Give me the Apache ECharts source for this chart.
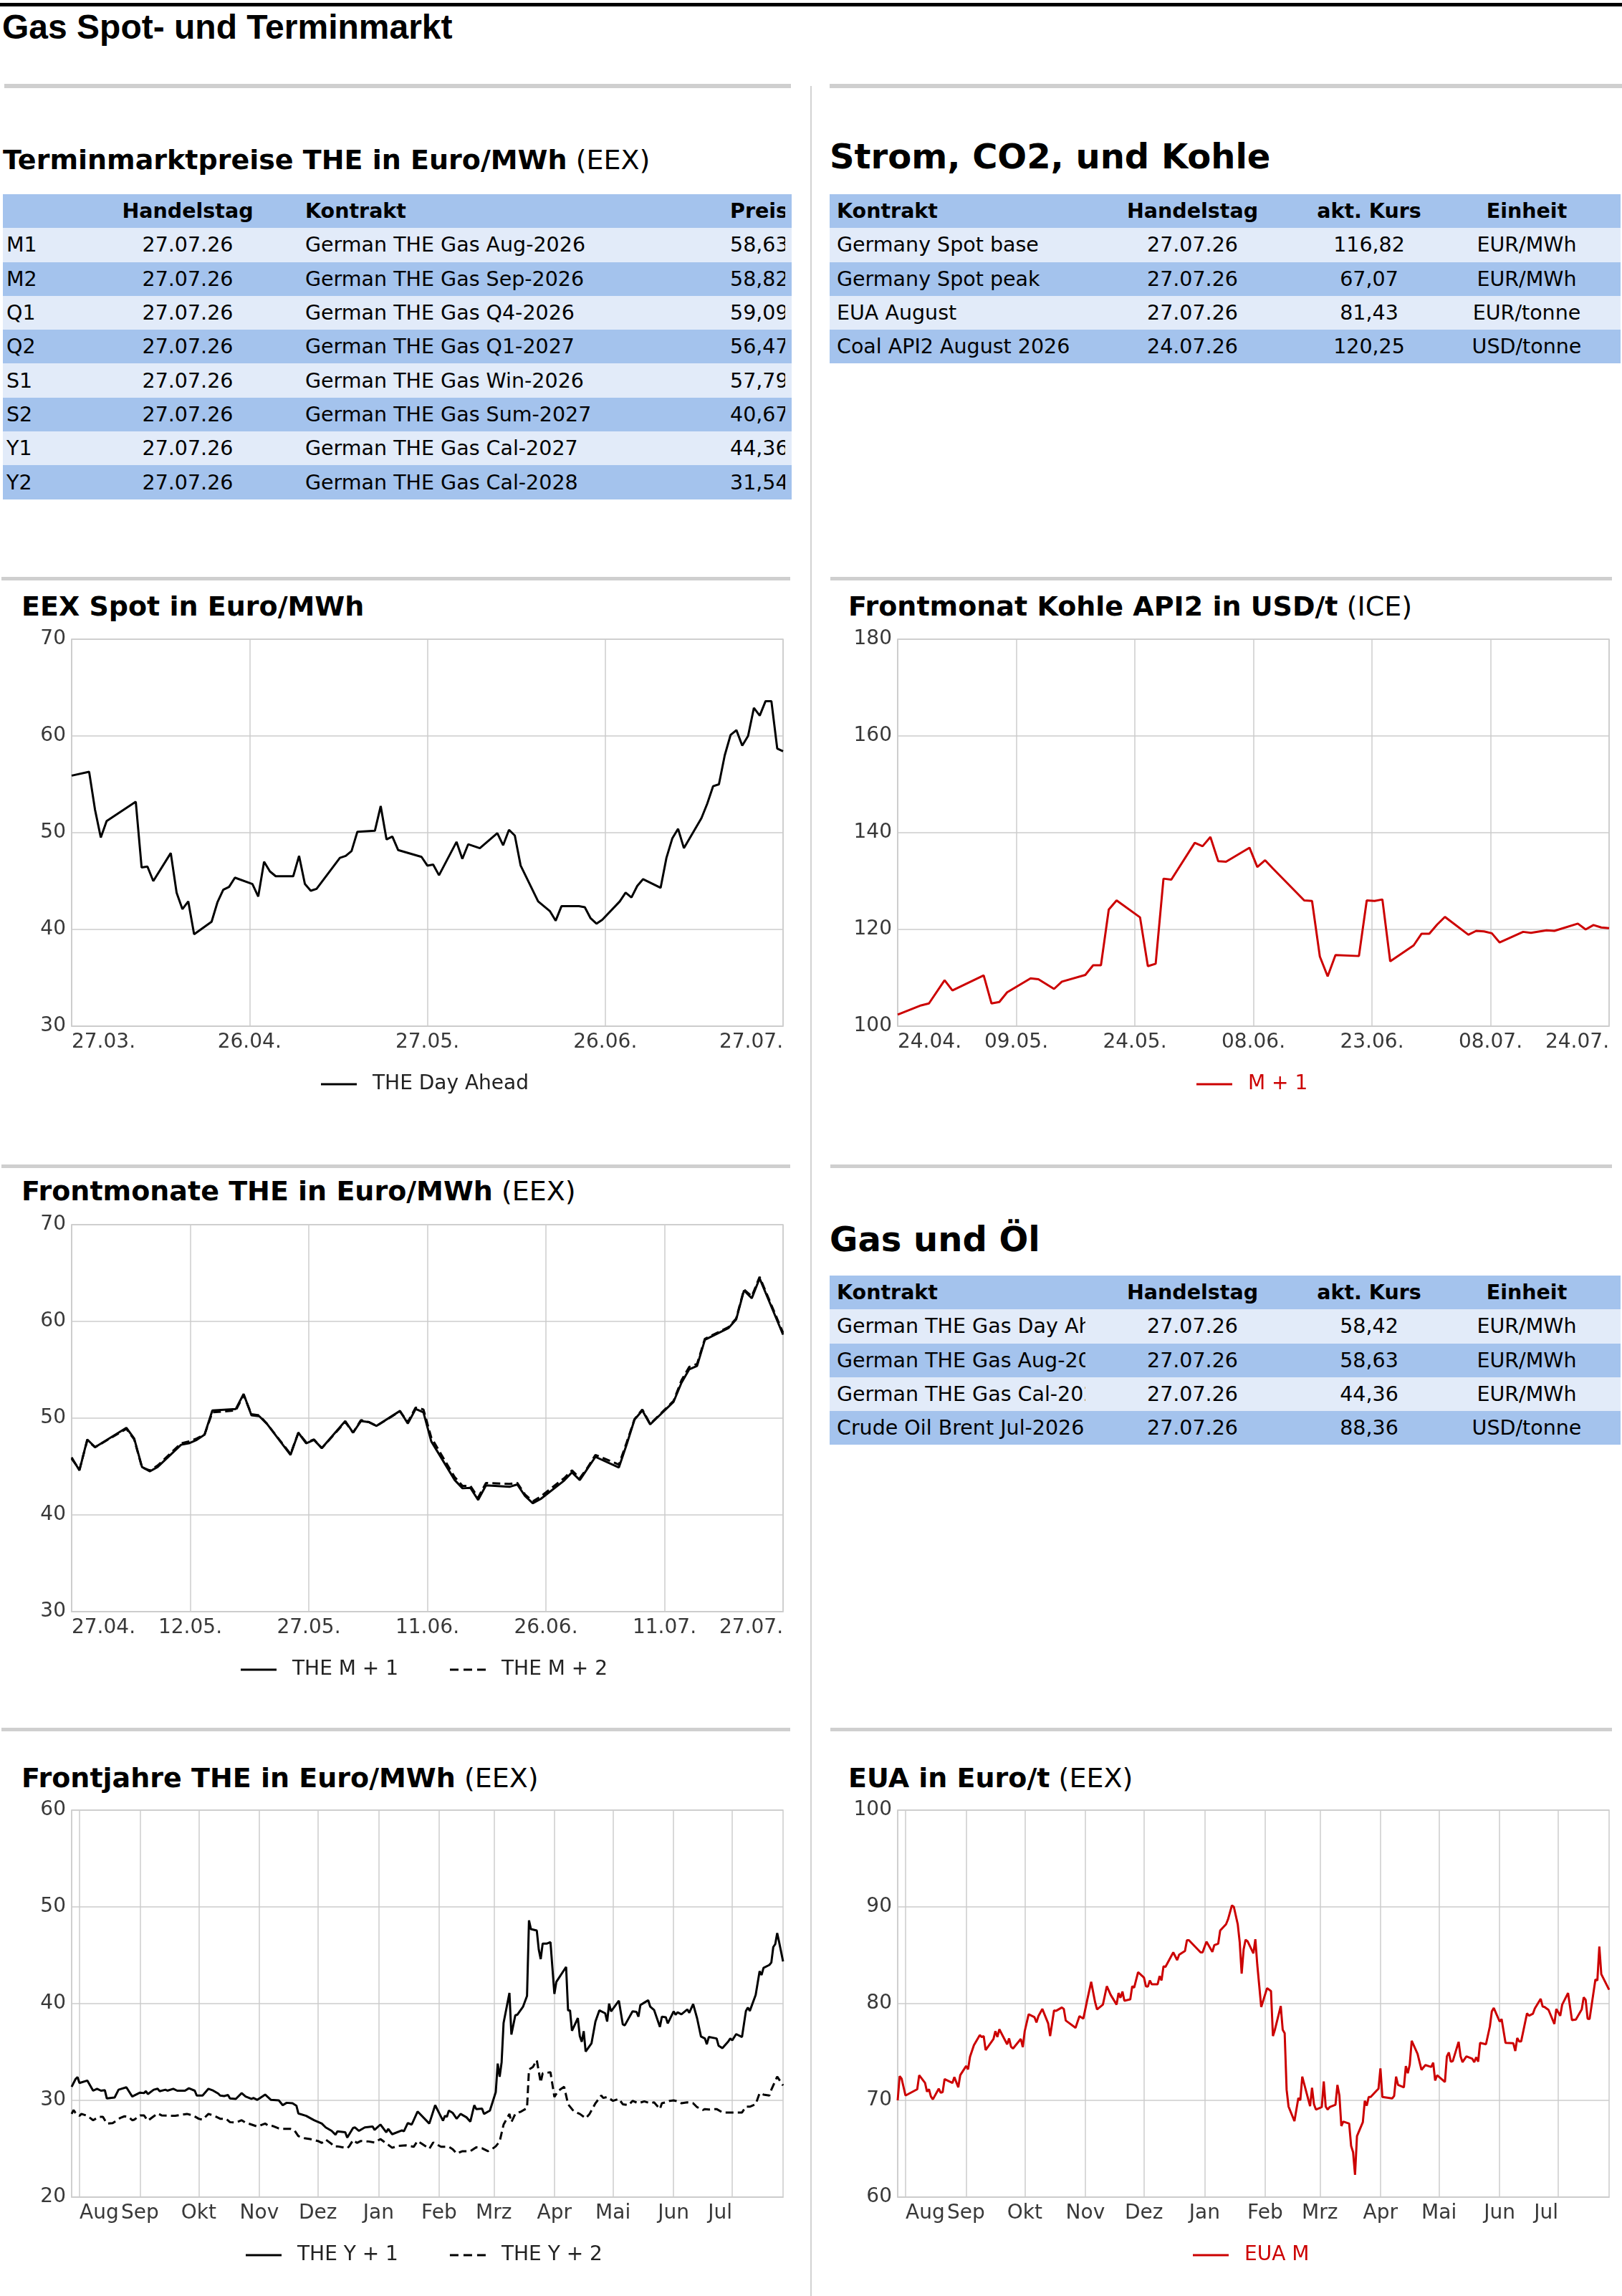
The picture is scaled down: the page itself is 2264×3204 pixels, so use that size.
<!DOCTYPE html>
<html lang="de">
<head>
<meta charset="utf-8">
<title>Gas Spot- und Terminmarkt</title>
<script src="https://cdn.jsdelivr.net/npm/echarts@6.0.0/dist/echarts.min.js"></script>
<style>
  html, body { margin: 0; padding: 0; background: #fff; }
  #page { position: relative; width: 2264px; height: 3204px; overflow: hidden; background: #fff; color: #000; }
  #charts { position: absolute; left: 0; top: 0; width: 2264px; height: 3204px; }
  .bar { position: absolute; }
  .heading { position: absolute; white-space: nowrap; font-family: "DejaVu Sans", sans-serif; font-weight: bold; color: #000; }
  .heading span { font-weight: normal; }
  .h38 { font-size: 38px; line-height: 38px; }
  .h48 { font-size: 48px; line-height: 48px; }
  #pageTitle { position: absolute; left: 3px; top: 14px; font-family: "Liberation Sans", Arial, sans-serif; font-weight: bold; font-size: 48px; line-height: 48px; white-space: nowrap; }
  table { position: absolute; border-collapse: collapse; table-layout: fixed; font-family: "DejaVu Sans", sans-serif; font-size: 28.5px; color: #000; }
  td, th { box-sizing: border-box; height: 47.3px; padding-top: 0; padding-bottom: 0; white-space: nowrap; overflow: hidden; vertical-align: middle; font-weight: normal; }
  th { font-weight: bold; }
  tr.dark { background: #a4c3ed; }
  tr.light { background: #e2ebf9; }
</style>
</head>
<body>
<div id="page">
  <div class="bar" style="left:0;top:4px;width:2264px;height:5px;background:#000"></div>
  <div id="pageTitle">Gas Spot- und Terminmarkt</div>

  <div class="bar" style="left:1131px;top:120px;width:2px;height:3084px;background:#d2d2d2"></div>

  <div class="bar" style="left:6px;top:117px;width:1098px;height:6px;background:#cfcfcf"></div>
  <div class="bar" style="left:1158px;top:117px;width:1106px;height:6px;background:#cfcfcf"></div>
  <div class="bar" style="left:2px;top:805px;width:1101px;height:5px;background:#cfcfcf"></div>
  <div class="bar" style="left:1159px;top:805px;width:1091px;height:5px;background:#cfcfcf"></div>
  <div class="bar" style="left:2px;top:1625px;width:1101px;height:5px;background:#cfcfcf"></div>
  <div class="bar" style="left:1159px;top:1625px;width:1091px;height:5px;background:#cfcfcf"></div>
  <div class="bar" style="left:2px;top:2411px;width:1101px;height:5px;background:#cfcfcf"></div>
  <div class="bar" style="left:1159px;top:2411px;width:1091px;height:5px;background:#cfcfcf"></div>

  <div class="heading h38" style="left:4px;top:204px">Terminmarktpreise THE in Euro/MWh<span> (EEX)</span></div>
  <div class="heading h48" style="left:1158px;top:194px">Strom, CO2, und Kohle</div>
  <div class="heading h48" style="left:1158px;top:1705px">Gas und Öl</div>

  <div class="heading h38" style="left:30px;top:827px">EEX Spot in Euro/MWh</div>
  <div class="heading h38" style="left:1184px;top:827px">Frontmonat Kohle API2 in USD/t<span> (ICE)</span></div>
  <div class="heading h38" style="left:30px;top:1643px">Frontmonate THE in Euro/MWh<span> (EEX)</span></div>
  <div class="heading h38" style="left:30px;top:2462px">Frontjahre THE in Euro/MWh<span> (EEX)</span></div>
  <div class="heading h38" style="left:1184px;top:2462px">EUA in Euro/t<span> (EEX)</span></div>

  <table id="termTable" style="left:4px;top:271px"></table>
  <table id="stromTable" style="left:1158px;top:271px"></table>
  <table id="gasTable" style="left:1158px;top:1780px"></table>

  <div id="charts"></div>
</div>
<script>
// ---- table data ----
const termCodes = ['M1', 'M2', 'Q1', 'Q2', 'S1', 'S2', 'Y1', 'Y2'];
const termDates = ['27.07.26', '27.07.26', '27.07.26', '27.07.26', '27.07.26', '27.07.26', '27.07.26', '27.07.26'];
const termContracts = ['German THE Gas Aug-2026', 'German THE Gas Sep-2026', 'German THE Gas Q4-2026', 'German THE Gas Q1-2027',
  'German THE Gas Win-2026', 'German THE Gas Sum-2027', 'German THE Gas Cal-2027', 'German THE Gas Cal-2028'];
const termPrices = [58.63, 58.82, 59.09, 56.47, 57.79, 40.67, 44.36, 31.54];

const stromContracts = ['Germany Spot base', 'Germany Spot peak', 'EUA August', 'Coal API2 August 2026'];
const stromDates = ['27.07.26', '27.07.26', '27.07.26', '24.07.26'];
const stromPrices = [116.82, 67.07, 81.43, 120.25];
const stromUnits = ['EUR/MWh', 'EUR/MWh', 'EUR/tonne', 'USD/tonne'];

const gasContracts = ['German THE Gas Day Ahead', 'German THE Gas Aug-2026', 'German THE Gas Cal-2027', 'Crude Oil Brent Jul-2026'];
const gasDates = ['27.07.26', '27.07.26', '27.07.26', '27.07.26'];
const gasPrices = [58.42, 58.63, 44.36, 88.36];
const gasUnits = ['EUR/MWh', 'EUR/MWh', 'EUR/MWh', 'USD/tonne'];

// ---- chart data: [days since first axis date, value] ----
// EEX Spot, axis from 27.03. (day 0) to 27.07. (day 122)
const spotTicks = ['27.03.', '26.04.', '27.05.', '26.06.', '27.07.'];
const spotPoints = [[0,55.9],[3,56.3],[4,52.4],[5,49.5],[6,51.2],[11,53.2],[12,46.4],[13,46.5],[14,45.0],[17,47.9],
  [18,43.8],[19,42.1],[20,42.9],[21,39.5],[24,40.8],[25,42.8],[26,44.1],[27,44.4],[28,45.35],[31,44.7],[32,43.4],
  [33,47.0],[34,46.0],[35,45.5],[38,45.5],[39,47.6],[40,44.7],[41,44.0],[42,44.2],[46,47.4],[47,47.6],[48,48.1],
  [49,50.1],[52,50.2],[53,52.75],[54,49.3],[55,49.6],[56,48.2],[60,47.5],[61,46.6],[62,46.7],[63,45.6],[66,49.05],
  [67,47.3],[68,48.8],[70,48.4],[73,49.95],[74,48.7],[75,50.3],[76,49.7],[77,46.6],[80,42.9],[82,41.9],[83,40.9],
  [84,42.4],[87,42.4],[88,42.3],[89,41.15],[90,40.6],[91,41.0],[94,42.9],[95,43.8],[96,43.3],[97,44.5],[98,45.2],
  [101,44.3],[102,47.4],[103,49.4],[104,50.4],[105,48.4],[108,51.5],[109,53.0],[110,54.8],[111,55.0],[112,58.0],
  [113,60.1],[114,60.6],[115,59.0],[116,60.0],[117,62.9],[118,62.1],[119,63.6],[120,63.6],[121,58.7],[122,58.42]];

// Kohle API2, axis from 24.04. (day 0) to 24.07. (day 91)
const coalTicks = ['24.04.', '09.05.', '24.05.', '08.06.', '23.06.', '08.07.', '24.07.'];
const coalPoints = [[0,102.4],[3,104.3],[4,104.7],[6,109.5],[7,107.4],[11,110.5],[12,104.7],[13,105.0],[14,107.0],
  [17,109.9],[18,109.7],[20,107.7],[21,109.2],[24,110.6],[25,112.6],[26,112.6],[27,124.1],[28,126.0],[31,122.5],
  [32,112.4],[33,112.9],[34,130.5],[35,130.3],[38,137.9],[39,137.2],[40,139.1],[41,134.1],[42,134.0],[45,136.9],
  [46,132.9],[47,134.3],[48,132.6],[52,126.0],[53,125.9],[54,114.4],[55,110.3],[56,114.7],[59,114.5],[60,126.0],
  [61,125.9],[62,126.2],[63,113.4],[66,116.7],[67,119.1],[68,119.1],[69,121.0],[70,122.6],[73,118.9],[74,119.7],
  [75,119.6],[76,119.2],[77,117.3],[80,119.5],[81,119.3],[83,119.8],[84,119.7],[87,121.2],[88,120.0],[89,120.9],
  [90,120.4],[91,120.25]];

// Frontmonate, axis from 27.04. (day 0) to 27.07. (day 91)
const frontTicks = ['27.04.', '12.05.', '27.05.', '11.06.', '26.06.', '11.07.', '27.07.'];
const m1Points = [[0,45.95],[1,44.6],[2,47.8],[3,47.0],[7,49.0],[8,47.9],[9,44.95],[10,44.5],[11,44.95],[14,47.25],
  [15,47.4],[16,47.75],[17,48.3],[18,50.8],[21,50.95],[22,52.5],[23,50.3],[24,50.2],[25,49.4],[28,46.2],[29,48.5],
  [30,47.4],[31,47.75],[32,46.9],[35,49.7],[36,48.5],[37,49.7],[38,49.6],[39,49.2],[42,50.75],[43,49.45],[44,50.95],
  [45,50.6],[46,47.6],[49,43.6],[50,42.75],[51,42.8],[52,41.55],[53,43.05],[56,42.9],[57,43.15],[58,41.95],[59,41.2],
  [60,41.65],[63,43.55],[64,44.4],[65,43.6],[66,44.8],[67,46.0],[70,44.9],[71,47.3],[72,49.85],[73,50.8],[74,49.35],
  [77,51.7],[78,53.65],[79,55.05],[80,55.4],[81,58.1],[84,59.3],[85,60.2],[86,63.2],[87,62.4],[88,64.45],[91,58.63]];
const m2Points = [[0,45.8],[1,44.7],[2,47.7],[3,47.0],[7,48.9],[8,47.8],[9,44.9],[10,44.6],[11,45.1],[14,47.4],
  [15,47.6],[16,47.9],[17,48.3],[18,50.6],[21,50.8],[22,52.4],[23,50.4],[24,50.3],[25,49.4],[28,46.3],[29,48.5],
  [30,47.5],[31,47.8],[32,46.9],[35,49.6],[36,48.5],[37,49.8],[38,49.6],[39,49.2],[42,50.7],[43,49.6],[44,51.1],
  [45,50.9],[46,48.0],[49,43.9],[50,43.0],[51,43.0],[52,41.8],[53,43.3],[56,43.2],[57,43.3],[58,42.1],[59,41.4],
  [60,41.9],[63,43.8],[64,44.6],[65,43.8],[66,44.9],[67,46.2],[70,45.2],[71,47.5],[72,49.9],[73,50.9],[74,49.4],
  [77,51.8],[78,53.9],[79,55.3],[80,55.6],[81,58.2],[84,59.4],[85,60.3],[86,63.3],[87,62.6],[88,64.6],[91,58.82]];

// one year axis from 28.07.2025 (day 0) to 27.07.2026 (day 364)
const monthNames = ['Aug', 'Sep', 'Okt', 'Nov', 'Dez', 'Jan', 'Feb', 'Mrz', 'Apr', 'Mai', 'Jun', 'Jul'];
const monthStarts = [4, 35, 65, 96, 126, 157, 188, 216, 247, 277, 308, 338];
const yearSpan = 364;

const y1Points = [[0,31.4],[2,32.2],[3,32.4],[4,31.8],[8,32.05],[11,31.0],[13,31.2],[15,31.0],[17,31.05],[18,30.2],
  [22,30.3],[24,31.1],[28,31.35],[31,30.4],[35,30.8],[37,30.75],[38,30.95],[39,30.65],[42,31.1],[44,31.2],[45,30.95],
  [48,31.1],[49,31.0],[52,31.2],[54,31.0],[58,31.0],[60,31.25],[63,31.0],[64,30.5],[67,30.5],[70,31.2],[72,31.05],
  [75,30.7],[76,30.5],[78,30.45],[80,30.55],[81,30.2],[84,30.15],[87,30.75],[89,30.4],[92,30.15],[93,30.25],[95,30.05],
  [99,30.6],[102,30.05],[106,30.0],[108,29.5],[110,29.75],[113,29.7],[115,29.45],[116,28.65],[120,28.4],[124,27.95],
  [128,27.6],[130,27.2],[133,26.85],[135,26.45],[136,26.8],[140,26.7],[141,26.15],[144,27.15],[145,27.2],[147,26.85],
  [150,27.2],[154,27.3],[155,26.95],[158,27.5],[161,26.7],[162,27.05],[164,26.5],[169,26.9],[170,26.8],[172,27.65],
  [174,27.5],[177,28.85],[183,27.6],[186,29.5],[190,27.9],[191,28.4],[192,28.3],[193,28.95],[195,28.7],[197,28.1],
  [199,28.6],[202,28.25],[204,27.8],[206,29.5],[207,29.1],[210,29.15],[211,28.6],[214,28.95],[217,30.85],[218,33.8],
  [219,32.45],[220,33.95],[221,38.0],[224,41.1],[225,36.8],[227,38.8],[228,38.85],[231,39.7],[233,40.8],[234,48.6],
  [235,47.7],[238,47.55],[239,45.6],[240,44.6],[241,46.2],[243,46.2],[245,46.35],[247,41.0],[248,42.25],[253,43.8],
  [254,39.3],[255,39.3],[256,37.2],[259,38.5],[260,36.65],[261,36.05],[262,37.15],[263,35.05],[266,35.9],[268,38.15],
  [270,39.3],[273,39.0],[274,38.15],[275,40.0],[276,39.2],[280,40.3],[282,37.85],[283,37.75],[287,39.2],[289,39.15],
  [290,38.65],[291,39.85],[293,40.1],[295,40.35],[296,39.7],[298,39.35],[301,37.6],[302,38.65],[304,38.6],[305,37.95],
  [308,39.2],[309,38.85],[310,39.1],[312,38.9],[315,39.4],[316,39.05],[318,39.95],[320,38.5],[322,36.6],[324,36.4],
  [325,35.8],[326,36.55],[330,36.4],[331,35.65],[333,35.4],[336,36.1],[337,36.4],[338,36.2],[340,36.85],[343,36.55],
  [345,39.25],[346,39.6],[347,39.25],[350,40.9],[352,43.35],[353,42.95],[354,43.7],[357,44.0],[358,44.25],[359,45.85],
  [360,46.15],[361,47.3],[362,46.35],[364,44.36]];

const y2Points = [[0,28.6],[1,29.0],[2,28.7],[4,28.4],[5,28.6],[8,28.4],[11,27.95],[14,28.3],[16,28.3],[18,27.6],
  [21,27.65],[25,28.2],[27,28.35],[29,28.3],[31,27.95],[32,28.0],[35,28.45],[37,28.45],[39,27.9],[41,28.2],[44,28.65],
  [46,28.45],[53,28.4],[59,28.6],[62,28.45],[65,28.1],[67,28.0],[70,28.6],[73,28.4],[76,28.1],[79,28.1],[81,27.75],
  [84,27.7],[87,27.95],[89,27.7],[92,27.5],[95,27.3],[99,27.6],[101,27.35],[103,27.35],[106,27.1],[108,27.05],
  [112,27.05],[114,26.9],[116,26.3],[119,26.1],[122,26.0],[126,25.8],[128,25.6],[130,25.95],[133,25.5],[134,25.25],
  [136,25.25],[141,25.05],[142,25.25],[144,25.9],[146,25.6],[148,25.8],[152,25.75],[155,25.65],[158,26.0],[161,25.55],
  [164,25.1],[167,25.3],[171,25.35],[175,25.2],[177,25.8],[180,25.4],[183,25.0],[185,25.65],[189,25.2],[193,25.2],
  [195,24.95],[197,24.5],[200,24.75],[204,24.75],[207,25.15],[210,25.05],[213,24.75],[215,24.95],[217,25.25],
  [219,25.75],[221,27.5],[224,28.6],[225,27.75],[227,28.6],[230,28.85],[233,29.2],[234,33.2],[236,33.45],[238,34.15],
  [240,31.85],[241,32.8],[245,32.9],[247,30.35],[249,31.0],[252,31.4],[254,29.6],[257,28.85],[260,28.6],[263,28.15],
  [265,28.6],[268,29.7],[271,30.5],[272,30.25],[274,30.35],[277,29.95],[280,30.15],[282,29.6],[285,29.5],[287,29.95],
  [290,29.7],[293,29.9],[296,29.7],[298,29.8],[301,29.1],[302,29.7],[304,29.8],[306,29.95],[308,30.0],[310,29.9],
  [312,29.7],[315,29.8],[318,29.7],[320,29.3],[323,29.0],[324,29.1],[326,29.05],[330,29.1],[333,28.75],[343,28.75],
  [345,29.35],[347,29.35],[350,29.6],[352,30.75],[354,30.6],[357,30.5],[358,31.1],[361,32.45],[364,31.54]];

const euaPoints = [[0,70.0],[1,72.5],[2,72.25],[4,70.5],[10,71.15],[11,72.6],[14,71.8],[15,70.9],[16,71.15],[17,70.4],
  [18,70.1],[21,71.2],[22,70.8],[23,70.85],[24,72.2],[28,71.8],[29,72.4],[31,71.35],[32,72.6],[35,73.55],[36,73.2],
  [37,74.5],[39,75.7],[42,76.75],[43,76.55],[44,76.65],[45,75.2],[49,76.35],[50,77.15],[51,76.55],[52,77.35],[56,75.8],
  [57,76.4],[58,75.55],[59,75.35],[63,76.35],[64,75.5],[65,77.15],[67,78.9],[70,78.6],[71,78.05],[72,78.7],[74,79.45],
  [77,77.95],[78,76.65],[80,79.3],[81,79.25],[84,79.6],[85,79.45],[86,78.25],[87,78.1],[91,77.5],[93,78.7],[95,78.45],
  [97,80.4],[99,82.25],[101,80.15],[102,79.4],[105,79.9],[107,81.8],[109,80.9],[112,79.9],[113,81.1],[114,80.6],
  [115,81.25],[116,80.3],[119,80.45],[120,81.8],[121,81.65],[123,83.25],[126,82.7],[127,81.8],[128,81.75],[129,82.4],
  [130,82.0],[133,82.0],[134,82.85],[135,82.4],[136,83.85],[137,83.8],[141,85.3],[143,84.5],[144,85.05],[147,85.45],
  [148,86.55],[149,86.55],[155,85.3],[156,85.3],[158,86.4],[161,85.35],[162,86.05],[164,86.2],[165,87.55],[168,88.2],
  [169,88.7],[171,90.15],[172,90.0],[174,88.2],[175,86.35],[176,83.1],[177,85.6],[178,86.6],[179,86.45],[182,85.2],
  [183,86.65],[184,84.0],[186,79.65],[189,81.6],[191,81.3],[192,76.65],[193,77.3],[196,79.75],[197,77.3],[198,76.95],
  [199,71.1],[200,69.35],[203,67.85],[205,70.25],[206,70.0],[207,72.45],[211,69.4],[212,71.3],[213,69.6],[214,69.05],
  [217,69.3],[218,71.95],[219,69.35],[220,69.05],[221,69.3],[224,69.55],[225,71.6],[226,70.5],[227,67.35],[228,67.8],
  [231,67.6],[232,65.3],[233,64.65],[234,62.3],[235,66.3],[238,67.75],[239,69.95],[240,69.45],[241,70.35],[242,70.35],
  [245,71.0],[246,71.2],[247,73.3],[248,70.35],[253,70.2],[254,70.45],[255,72.45],[256,71.6],[259,71.35],[260,73.55],
  [261,72.8],[262,73.7],[263,76.15],[266,74.8],[268,73.15],[270,73.65],[273,73.45],[274,73.9],[275,72.05],[276,72.6],
  [280,71.9],[281,74.55],[282,74.95],[283,74.0],[284,74.05],[287,76.05],[288,74.55],[289,73.95],[291,74.55],[294,74.3],
  [295,73.95],[296,74.45],[297,74.0],[298,75.95],[301,75.8],[303,77.65],[304,79.2],[305,79.55],[308,78.15],[309,78.4],
  [311,75.95],[315,75.9],[316,75.1],[317,76.45],[318,76.1],[319,76.1],[322,79.0],[323,78.75],[325,78.95],[326,79.5],
  [329,80.5],[330,79.7],[331,79.65],[333,79.35],[336,77.9],[337,79.45],[339,78.75],[340,79.9],[343,81.1],[345,78.3],
  [347,78.35],[350,79.4],[351,80.65],[352,80.4],[353,78.45],[354,78.4],[357,82.5],[358,82.4],[359,85.9],[360,83.05],
  [364,81.43]];

// ---- tables ----
function fmt(v) { return v.toFixed(2).replace('.', ','); }

function fillTable(id, columns, headers, rows) {
  const table = document.getElementById(id);
  const cell = (tag, text, c) => '<' + tag + ' style="text-align:' + c.align + ';padding-left:' + c.padL +
    'px;padding-right:' + c.padR + 'px">' + text + '</' + tag + '>';
  let html = '<colgroup>' + columns.map(c => '<col style="width:' + c.width + 'px">').join('') + '</colgroup>';
  html += '<tr class="dark">' + headers.map((h, i) => cell('th', h, columns[i])).join('') + '</tr>';
  rows.forEach((r, k) => {
    html += '<tr class="' + (k % 2 ? 'dark' : 'light') + '">' + r.map((t, i) => cell('td', t, columns[i])).join('') + '</tr>';
  });
  table.innerHTML = html;
  table.style.width = columns.reduce((s, c) => s + c.width, 0) + 'px';
}

fillTable('termTable',
  [{width: 116, align: 'left', padL: 5, padR: 0}, {width: 284, align: 'center', padL: 0, padR: 0},
   {width: 605, align: 'left', padL: 22, padR: 0}, {width: 87, align: 'left', padL: 10, padR: 0},
   {width: 9, align: 'left', padL: 0, padR: 0}],
  ['', 'Handelstag', 'Kontrakt', 'Preis', ''],
  termCodes.map((c, i) => [c, termDates[i], termContracts[i], fmt(termPrices[i]), '']));

const sideColumns = [{width: 357, align: 'left', padL: 10, padR: 0}, {width: 299, align: 'center', padL: 0, padR: 0},
  {width: 194, align: 'center', padL: 0, padR: 0}, {width: 254, align: 'center', padL: 0, padR: 8}];
const sideHeaders = ['Kontrakt', 'Handelstag', 'akt. Kurs', 'Einheit'];
fillTable('stromTable', sideColumns, sideHeaders,
  stromContracts.map((c, i) => [c, stromDates[i], fmt(stromPrices[i]), stromUnits[i]]));
fillTable('gasTable', sideColumns, sideHeaders,
  gasContracts.map((c, i) => [c, gasDates[i], fmt(gasPrices[i]), gasUnits[i]]));

// ---- charts ----
const FONT = '"DejaVu Sans", sans-serif';
const BLACK = '#000000';
const RED = '#cc0000';
const GRID_GREY = '#cccccc';
const LABEL_GREY = '#383838';
const LABEL_SIZE = 28;
const SOLID_ICON = 'path://M0,0H50V3H0Z';
const DASHED_ICON = 'path://M0,0H12V3H0Z M19,0H31V3H19Z M38,0H50V3H38Z';

const measure = document.createElement('canvas').getContext('2d');
function textWidth(t) {
  measure.font = LABEL_SIZE + 'px ' + FONT;
  return Math.round(measure.measureText(t).width);
}

const greyLine = {show: true, lineStyle: {color: GRID_GREY, width: 1.5}};

// day axis with evenly spaced date ticks; first label left-aligned, last right-aligned
function dateAxis(gridIndex, max, interval, ticks) {
  const last = ticks.length - 1;
  return {
    type: 'value', gridIndex: gridIndex, min: 0, max: max, interval: interval,
    axisLine: greyLine, axisTick: {show: false}, splitLine: greyLine,
    axisLabel: {
      color: LABEL_GREY, fontSize: LABEL_SIZE, fontFamily: FONT, margin: 9,
      formatter: function (v) {
        const i = Math.round(v / interval);
        if (i === 0) return '{first|' + ticks[0] + '}';
        if (i === last) return '{last|' + ticks[last] + '}';
        return ticks[i] || '';
      },
      rich: {
        first: {padding: [0, 0, 0, textWidth(ticks[0])]},
        last: {padding: [0, textWidth(ticks[last]), 0, 0]}
      }
    }
  };
}

// month axis: first label starts at its tick, last label ends at its tick
function monthAxis(gridIndex) {
  const last = monthNames.length - 1;
  return {
    type: 'value', gridIndex: gridIndex, min: 0, max: yearSpan,
    axisLine: greyLine, axisTick: {show: false, customValues: monthStarts}, splitLine: greyLine,
    axisLabel: {
      customValues: monthStarts,
      color: LABEL_GREY, fontSize: LABEL_SIZE, fontFamily: FONT, margin: 9,
      formatter: function (v) {
        const i = monthStarts.indexOf(Math.round(v));
        if (i === 0) return '{first|' + monthNames[0] + '}';
        if (i === last) return '{last|' + monthNames[last] + '}';
        return i > 0 ? monthNames[i] : '';
      },
      rich: {
        first: {padding: [0, 0, 0, textWidth(monthNames[0])]},
        last: {padding: [0, textWidth(monthNames[last]), 0, 0]}
      }
    }
  };
}

function valueAxis(gridIndex, min, max, interval) {
  return {
    type: 'value', gridIndex: gridIndex, min: min, max: max, interval: interval,
    axisLine: greyLine, axisTick: {show: false}, splitLine: greyLine,
    axisLabel: {color: LABEL_GREY, fontSize: LABEL_SIZE, fontFamily: FONT, margin: 8}
  };
}

function lineSeries(name, axisIndex, points, color, dashed) {
  return {
    type: 'line', name: name, xAxisIndex: axisIndex, yAxisIndex: axisIndex, data: points,
    symbol: 'none', showSymbol: false, silent: true,
    lineStyle: {color: color, width: 3, type: dashed ? [11, 6] : 'solid'},
    itemStyle: {color: color}
  };
}

// items: [name, dashed]
function legend(left, top, items, color) {
  return {
    left: left, top: top, padding: 0, itemWidth: 50, itemHeight: 3, itemGap: 72, selectedMode: false,
    data: items.map(it => ({name: it[0], icon: it[1] ? DASHED_ICON : SOLID_ICON})),
    textStyle: {fontSize: 28, lineHeight: 30, fontFamily: FONT, color: color, padding: [0, 0, 0, 17]}
  };
}

function plotGrid(left, top) {
  return {left: left, top: top, width: 993, height: 540, show: true, borderColor: GRID_GREY, borderWidth: 1.5};
}

const chart = echarts.init(document.getElementById('charts'));
chart.setOption({
  animation: false,
  grid: [plotGrid(100, 892), plotGrid(1253, 892), plotGrid(100, 1709), plotGrid(100, 2526), plotGrid(1253, 2526)],
  xAxis: [
    dateAxis(0, 122, 30.5, spotTicks),
    dateAxis(1, 91, 15.1667, coalTicks),
    dateAxis(2, 91, 15.1667, frontTicks),
    monthAxis(3),
    monthAxis(4)
  ],
  yAxis: [
    valueAxis(0, 30, 70, 10),
    valueAxis(1, 100, 180, 20),
    valueAxis(2, 30, 70, 10),
    valueAxis(3, 20, 60, 10),
    valueAxis(4, 60, 100, 10)
  ],
  legend: [
    legend(448, 1498, [['THE Day Ahead', false]], '#222222'),
    legend(1670, 1498, [['M + 1', false]], RED),
    legend(336, 2315, [['THE M + 1', false], ['THE M + 2', true]], '#222222'),
    legend(343, 3132, [['THE Y + 1', false], ['THE Y + 2', true]], '#222222'),
    legend(1665, 3132, [['EUA M', false]], RED)
  ],
  series: [
    lineSeries('THE Day Ahead', 0, spotPoints, BLACK, false),
    lineSeries('M + 1', 1, coalPoints, RED, false),
    lineSeries('THE M + 2', 2, m2Points, BLACK, true),
    lineSeries('THE M + 1', 2, m1Points, BLACK, false),
    lineSeries('THE Y + 1', 3, y1Points, BLACK, false),
    lineSeries('THE Y + 2', 3, y2Points, BLACK, true),
    lineSeries('EUA M', 4, euaPoints, RED, false)
  ]
});
</script>
</body>
</html>
